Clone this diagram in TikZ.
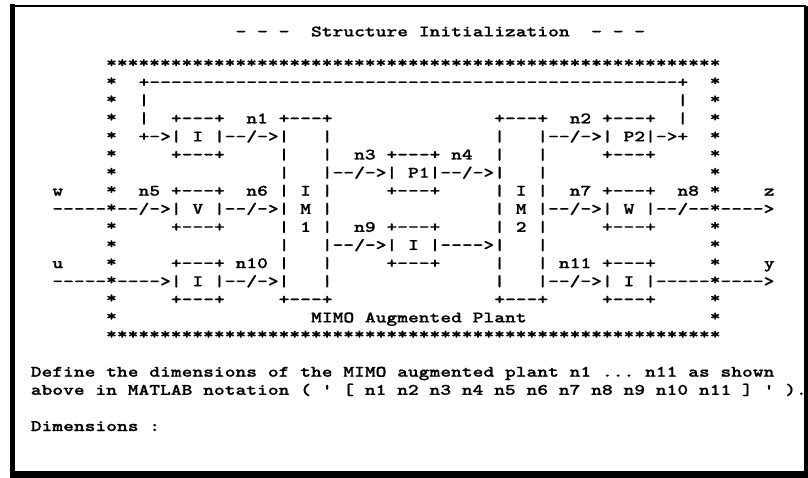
\documentclass[tikz,border=0pt]{standalone}
\usepackage{fontspec}
\newfontfamily\scrfamily{lmmonolt10-bold.otf}[FakeStretch=1.283, FakeBold=0.8]
\usepackage{tikz}

% screen font: one cell is 10.78pt wide
\newcommand{\scr}{\scrfamily\fontsize{16}{16}\selectfont\def~{\hphantom{x}}}
\newcommand{\blank}[1]{\hspace*{#1\fontcharwd\font`x}}

\begin{document}
\begin{tikzpicture}[x=1pt, y=-1pt,
    txt/.style={font=\scr, inner sep=0pt, anchor=base west, yshift=-4pt},
    star/.style={font=\scr, inner sep=0pt, anchor=base, yshift=-2.6pt}]
\useasboundingbox (0,0) rectangle (808,478);
% window frame
\draw[line width=1.8pt] (10,6) -- (806,6);
\draw[line width=4.5pt] (12.3,4) -- (12.3,474);
\fill (804,6) rectangle (808,478);
\fill (10,471) rectangle (808,478);

\begin{scope}[shift={(30.6,65)}, x=10.78pt, y=-18.1pt]
\node[txt] (title) at (19,-1.8) {-~-~-~~Structure~Initialization~~-~-~-};

% star frame of the plant
\foreach \c in {7,...,63} {
  \node[star] (top\c) at (\c+0.5,0) {*};
  \node[star] (bot\c) at (\c+0.5,15) {*};
}
\foreach \r in {1,...,14} {
  \node[star] (left\r) at (7.5,\r) {*};
  \node[star] (right\r) at (63.5,\r) {*};
}

\node[txt] (row1) at (10,1) {+\foreach \i in {1,...,49}{-}+};
\node[txt] (row2) at (10,2) {|\blank{49}|};
\node[txt] (row3) at (10,3) {|~~+---+~~n1~+---+\blank{15}+---+~~n2~+---+~~|};
\node[txt] (row4) at (10,4) {+->|~I~|--/->|~~~|\blank{15}|~~~|--/->|~P2|->+};
\node[txt] (row5) at (13,5) {+---+\blank{5}|~~~|~~n3~+---+~n4~~|~~~|\blank{5}+---+};
\node[txt] (row6) at (23,6) {|~~~|--/->|~P1|--/->|~~~|};
\node[txt] (row7) at (10,7) {n5~+---+~~n6~|~I~|\blank{5}+---+\blank{5}|~I~|~~n7~+---+~~n8};
\node[txt] (row8) at (2,8) {-----~--/->|~V~|--/->|~M~|\blank{15}|~M~|--/->|~W~|--/--~---->};
\node[txt] (row9) at (13,9) {+---+\blank{5}|~1~|~~n9~+---+\blank{5}|~2~|\blank{5}+---+};
\node[txt] (row10) at (23,10) {|~~~|--/->|~I~|---->|~~~|};
\node[txt] (row11) at (13,11) {+---+~n10~|~~~|\blank{5}+---+\blank{5}|~~~|~n11~+---+};
\node[txt] (row12) at (2,12) {-----~---->|~I~|--/->|~~~|\blank{15}|~~~|--/->|~I~|-----~---->};
\node[txt] (row13) at (13,13) {+---+\blank{5}+---+\blank{15}+---+\blank{5}+---+};
\node[txt] (row14) at (26,14) {MIMO~Augmented~Plant};

% signals
\node[txt] (w) at (2,7) {w};
\node[txt] (u) at (2,11) {u};
\node[txt] (z) at (68,7) {z};
\node[txt] (y) at (68,11) {y};

\node[txt] (define) at (0,17)
    {Define~the~dimensions~of~the~MIMO~augmented~plant~n1~...~n11~as~shown};
\node[txt] (above) at (0,18)
    {above~in~MATLAB~notation~(~'~[~n1~n2~n3~n4~n5~n6~n7~n8~n9~n10~n11~]~'~).};
\node[txt] (dims) at (0,20) {Dimensions~:};
\end{scope}
\end{tikzpicture}
\end{document}
